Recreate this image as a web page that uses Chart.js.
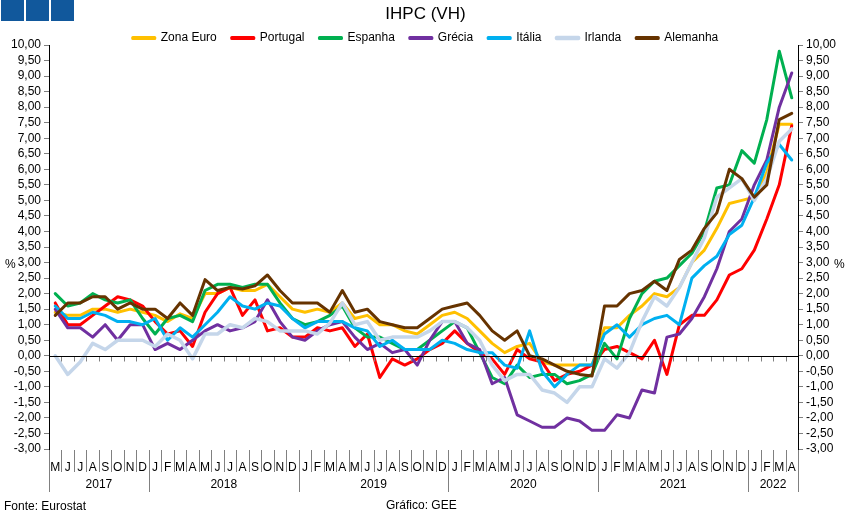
<!DOCTYPE html>
<html>
<head>
<meta charset="utf-8">
<script src="https://cdn.jsdelivr.net/npm/chart.js@4.4.1/dist/chart.umd.min.js"></script>
<style>
html,body{margin:0;padding:0;background:#fff;}
#wrap{position:relative;width:851px;height:518px;}
.sq{position:absolute;top:0;width:23px;height:21px;background:#11589c;}
</style>
</head>
<body>
<div id="wrap">
<canvas id="c"></canvas>
<div class="sq" style="left:1px"></div>
<div class="sq" style="left:26px"></div>
<div class="sq" style="left:51px"></div>
</div>
<script>
const months = ['M','J','J','A','S','O','N','D',
 'J','F','M','A','M','J','J','A','S','O','N','D',
 'J','F','M','A','M','J','J','A','S','O','N','D',
 'J','F','M','A','M','J','J','A','S','O','N','D',
 'J','F','M','A','M','J','J','A','S','O','N','D',
 'J','F','M','A'];
const years = ['2017','2018','2019','2020','2021','2022'];
const yearMonths = [8,12,12,12,12,4];

const zonaEuro = [1.4,1.3,1.3,1.5,1.5,1.4,1.5,1.4,
 1.3,1.1,1.35,1.2,2.0,2.0,2.2,2.1,2.1,2.3,1.9,1.5,
 1.4,1.5,1.4,1.7,1.2,1.3,1.0,1.0,0.8,0.7,1.0,1.3,
 1.4,1.2,0.8,0.4,0.1,0.3,0.4,-0.2,-0.3,-0.3,-0.3,-0.3,
 0.9,0.9,1.3,1.6,2.0,1.9,2.2,3.0,3.4,4.1,4.9,5.0,
 5.1,5.9,7.45,7.45];
const portugal = [1.7,1.0,1.0,1.3,1.6,1.9,1.8,1.6,
 1.1,0.7,0.8,0.3,1.4,2.0,2.2,1.3,1.8,0.8,0.9,0.6,
 0.6,0.9,0.8,0.9,0.3,0.7,-0.7,-0.1,-0.3,-0.1,0.2,0.4,
 0.8,0.4,0.1,-0.1,-0.6,0.2,-0.1,-0.2,-0.8,-0.6,-0.5,-0.3,
 0.2,0.3,0.1,-0.1,0.5,-0.6,1.0,1.3,1.3,1.8,2.6,2.8,
 3.4,4.4,5.5,7.4];
const espanha = [2.0,1.6,1.7,2.0,1.8,1.7,1.8,1.2,
 0.7,1.2,1.3,1.1,2.1,2.3,2.3,2.2,2.3,2.3,1.7,1.2,
 1.0,1.1,1.3,1.6,0.9,0.6,0.6,0.4,0.2,0.2,0.5,0.8,
 1.1,0.9,0.1,-0.7,-0.9,-0.3,-0.7,-0.6,-0.6,-0.9,-0.8,-0.6,
 0.4,-0.1,1.2,2.0,2.4,2.5,2.9,3.3,4.0,5.4,5.5,6.6,
 6.2,7.6,9.8,8.3];
const grecia = [1.5,0.9,0.9,0.6,1.0,0.5,1.0,1.0,
 0.2,0.4,0.2,0.5,0.8,1.0,0.8,0.9,1.1,1.8,1.1,0.6,
 0.5,0.8,1.0,1.1,0.6,0.2,0.4,0.1,0.2,-0.3,0.5,1.1,
 1.1,0.4,0.2,-0.9,-0.7,-1.9,-2.1,-2.3,-2.3,-2.0,-2.1,-2.4,
 -2.4,-1.9,-2.0,-1.1,-1.2,0.6,0.7,1.2,1.9,2.8,4.0,4.4,
 5.5,6.3,8.0,9.1];
const italia = [1.6,1.2,1.2,1.4,1.3,1.1,1.1,1.0,
 1.2,0.5,0.9,0.6,1.0,1.4,1.9,1.6,1.5,1.7,1.6,1.2,
 0.9,1.1,1.1,1.1,0.9,0.8,0.3,0.5,0.2,0.2,0.2,0.5,
 0.4,0.2,0.1,0.1,-0.3,-0.4,0.8,-0.5,-1.0,-0.6,-0.3,-0.3,
 0.7,1.0,0.6,1.0,1.2,1.3,1.0,2.5,2.9,3.2,3.9,4.2,
 5.1,6.2,6.8,6.3];
const irlanda = [0.0,-0.6,-0.2,0.4,0.2,0.5,0.5,0.5,
 0.3,0.7,0.5,-0.1,0.7,0.7,1.0,0.9,1.2,1.1,0.8,0.8,
 0.8,0.7,1.05,1.7,1.0,1.1,0.5,0.6,0.6,0.6,0.8,1.1,
 1.1,0.9,0.5,-0.3,-0.8,-0.6,-0.6,-1.1,-1.2,-1.5,-1.0,-1.0,
 -0.1,-0.4,0.1,1.1,1.9,1.6,2.2,3.0,3.8,5.1,5.4,5.7,
 5.0,5.7,6.9,7.3];
const alemanha = [1.3,1.7,1.7,1.9,1.9,1.5,1.7,1.5,
 1.5,1.2,1.7,1.3,2.45,2.1,2.2,2.15,2.25,2.6,2.1,1.7,
 1.7,1.7,1.4,2.1,1.4,1.5,1.1,1.0,0.9,0.9,1.2,1.5,
 1.6,1.7,1.3,0.8,0.5,0.8,0.0,-0.1,-0.3,-0.5,-0.6,-0.65,
 1.6,1.6,2.0,2.1,2.4,2.1,3.1,3.4,4.1,4.6,6.0,5.7,
 5.1,5.5,7.6,7.8];

const seriesNames = ['Zona Euro','Portugal','Espanha','Grécia','Itália','Irlanda','Alemanha'];
const seriesData = [zonaEuro,portugal,espanha,grecia,italia,irlanda,alemanha];
const seriesColors = ['#ffc000','#ff0000','#00b050','#7030a0','#00b0f0','#c5d6ea','#663300'];
const seriesWidths = [3,3,3,3,3,3.5,3];

const FONT = "'Liberation Sans', Arial, sans-serif";
Chart.defaults.font.family = FONT;
Chart.defaults.color = '#000';

const fmt = v => Number(v).toFixed(2).replace('.', ',');

const layoutFix = {
  id: 'layoutFix',
  beforeLayout(chart) {
    const lg = chart.legend;
    if (lg && !lg._wrappedFit) {
      const orig = lg.fit;
      lg.fit = function() { orig.call(this); this.height = 28; };
      lg._wrappedFit = true;
    }
  },
  afterDraw(chart) {
    const ctx = chart.ctx;
    const xs = chart.scales.x, ys = chart.scales.y;
    const area = chart.chartArea;
    const w = xs.getPixelForValue(1) - xs.getPixelForValue(0);
    const bnd = i => xs.getPixelForValue(0) - w/2 + i*w;
    ctx.save();
    // zero line with small ticks
    const y0 = Math.round(ys.getPixelForValue(0)) + 0.5;
    ctx.strokeStyle = '#808080'; ctx.lineWidth = 1;
    ctx.beginPath();
    for (let i = 1; i < months.length; i++) {
      const xb = Math.round(bnd(i)) + 0.5;
      ctx.moveTo(xb, y0); ctx.lineTo(xb, y0 + 5);
    }
    ctx.stroke();
    ctx.strokeStyle = '#000';
    ctx.beginPath(); ctx.moveTo(area.left, y0); ctx.lineTo(area.right, y0); ctx.stroke();
    // month and year separators
    const yb = area.bottom;
    const starts = [0];
    yearMonths.forEach((n, k) => starts.push(starts[k] + n));
    ctx.strokeStyle = '#808080';
    ctx.beginPath();
    for (let i = 0; i <= months.length; i++) {
      const xb = Math.round(bnd(i)) + 0.5;
      const isYear = starts.includes(i);
      ctx.moveTo(xb, yb + 1); ctx.lineTo(xb, yb + (isYear ? 43 : 23));
    }
    ctx.stroke();
    // year labels
    ctx.fillStyle = '#000';
    ctx.font = '12px ' + FONT;
    ctx.textAlign = 'center'; ctx.textBaseline = 'middle';
    years.forEach((yr, k) => {
      const cx = (bnd(starts[k]) + bnd(starts[k+1])) / 2;
      ctx.fillText(yr, cx, yb + 36);
    });
    // % labels
    const yp = ys.getPixelForValue(3);
    ctx.textAlign = 'left';
    ctx.fillText('%', 5, yp + 2);
    ctx.fillText('%', 834, yp + 2);
    // footer
    ctx.fillText('Fonte: Eurostat', 4, 507);
    ctx.fillText('Gráfico: GEE', 386, 506);
    ctx.restore();
  }
};

const yAxisBase = (pos, width) => ({
  type: 'linear', position: pos, min: -3, max: 10,
  ticks: { stepSize: 0.5, autoSkip: false, padding: 3, color: '#000', font: { size: 12 }, callback: v => fmt(v) },
  grid: { display: true, drawOnChartArea: false, drawTicks: true, tickLength: 5, color: '#808080' },
  border: { display: true, color: '#000', width: 1 },
  afterFit: s => { s.width = width; }
});

new Chart(document.getElementById('c'), {
  type: 'line',
  data: {
    labels: months,
    datasets: seriesNames.map((n, i) => ({
      label: n,
      data: seriesData[i],
      borderColor: seriesColors[i],
      backgroundColor: seriesColors[i],
      borderWidth: seriesWidths[i],
      pointRadius: 0,
      tension: 0,
      borderJoinStyle: 'round',
      borderCapStyle: 'round',
      order: 10 - i,
      yAxisID: 'y'
    }))
  },
  options: {
    responsive: true,
    maintainAspectRatio: false,
    animation: false,
    layout: { padding: 0 },
    plugins: {
      title: { display: true, text: 'IHPC (VH)', color: '#000', font: { size: 17, weight: 'normal', lineHeight: 1 }, padding: { top: 6, bottom: -6 } },
      legend: {
        display: true, position: 'top', align: 'center',
        labels: { boxWidth: 22, boxHeight: 1, padding: 15, color: '#000', font: { size: 12 },
          sort: (a, b) => a.datasetIndex - b.datasetIndex }
      },
      tooltip: { enabled: false }
    },
    scales: {
      x: {
        type: 'category', offset: true,
        grid: { display: false, drawTicks: false },
        border: { display: false },
        ticks: { autoSkip: false, maxRotation: 0, minRotation: 0, padding: 11, color: '#000', font: { size: 12 } },
        afterFit: s => { s.height = 69; }
      },
      y: yAxisBase('left', 49),
      y2: yAxisBase('right', 53)
    }
  },
  plugins: [layoutFix]
});
</script>
</body>
</html>
